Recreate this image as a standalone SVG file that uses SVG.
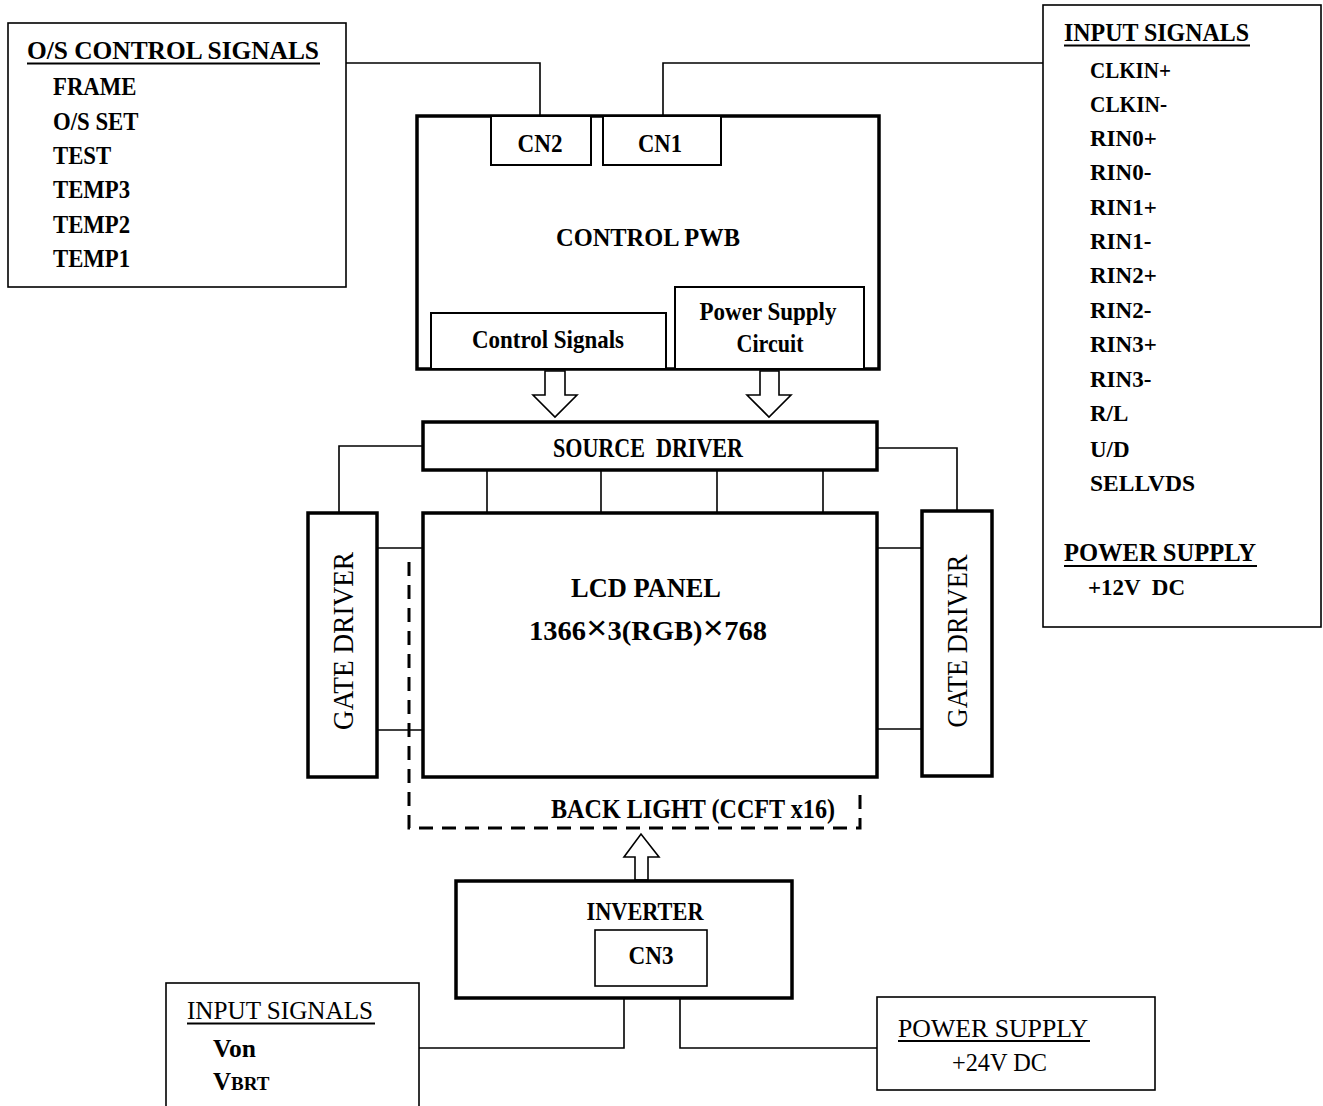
<svg xmlns="http://www.w3.org/2000/svg" width="1323" height="1106" viewBox="0 0 1323 1106">
<style>
.thin{fill:#fff;stroke:#000;stroke-width:1.6}
.med{fill:#fff;stroke:#000;stroke-width:2}
.thick{fill:#fff;stroke:#000;stroke-width:3.5}
.ln{fill:none;stroke:#000;stroke-width:1.6}
.arr{fill:#fff;stroke:#000;stroke-width:1.6}
.dash{fill:none;stroke:#000;stroke-width:3;stroke-dasharray:14 9}
text{font-family:"Liberation Serif","Times New Roman",serif;fill:#000}
.b{font-weight:bold;font-size:23px}
.bb{font-weight:bold;font-size:27px}
.r{font-size:27px}
.c{text-anchor:middle}
.u{fill:none;stroke:#000;stroke-width:2}
</style>
<rect width="1323" height="1106" fill="#fff"/>
<g id="connectors">
<polyline class="ln" points="346,63 540,63 540,116"/>
<polyline class="ln" points="663,116 663,63 1043,63"/>
<polyline class="ln" points="423,446 339,446 339,513"/>
<polyline class="ln" points="877,448 957,448 957,511"/>
<line class="ln" x1="487" y1="470" x2="487" y2="513"/>
<line class="ln" x1="601" y1="470" x2="601" y2="513"/>
<line class="ln" x1="717" y1="470" x2="717" y2="513"/>
<line class="ln" x1="823" y1="470" x2="823" y2="513"/>
<line class="ln" x1="377" y1="548" x2="423" y2="548"/>
<line class="ln" x1="377" y1="730" x2="423" y2="730"/>
<line class="ln" x1="877" y1="548" x2="922" y2="548"/>
<line class="ln" x1="877" y1="729" x2="922" y2="729"/>
<polyline class="ln" points="624,998 624,1048 419,1048"/>
<polyline class="ln" points="680,998 680,1048 877,1048"/>
<polygon class="arr" points="545,371 565,371 565,395 577,395 555,417 533,395 545,395"/>
<polygon class="arr" points="760,371 779,371 779,395 791,395 769,417 747,395 760,395"/>
<polygon class="arr" points="635,880 648,880 648,857 659,857 641,834 624,857 635,857"/>
</g>
<g id="os-control-signals">
<rect class="thin" x="8" y="23" width="338" height="264"/>
<text class="b" x="27" y="59" textLength="292" lengthAdjust="spacingAndGlyphs" style="font-size:25px">O/S CONTROL SIGNALS</text>
<line class="u" x1="27" y1="63.5" x2="320" y2="63.5"/>
<g transform="translate(53,0) scale(0.93,1)">
<text class="b" x="0" y="95" style="font-size:24.5px">FRAME</text>
<text class="b" x="0" y="130" style="font-size:24.5px">O/S SET</text>
<text class="b" x="0" y="164" style="font-size:24.5px">TEST</text>
<text class="b" x="0" y="198" style="font-size:24.5px">TEMP3</text>
<text class="b" x="0" y="233" style="font-size:24.5px">TEMP2</text>
<text class="b" x="0" y="267" style="font-size:24.5px">TEMP1</text>
</g>
</g>
<g id="input-signals-right">
<rect class="thin" x="1043" y="5" width="278" height="622"/>
<text class="b" x="1064" y="41" textLength="185" lengthAdjust="spacingAndGlyphs" style="font-size:24.5px">INPUT SIGNALS</text>
<line class="u" x1="1064" y1="45.5" x2="1250" y2="45.5"/>
<g transform="translate(1090,0)">
<text class="b" x="0" y="78" textLength="81" lengthAdjust="spacingAndGlyphs">CLKIN+</text>
<text class="b" x="0" y="112" textLength="77" lengthAdjust="spacingAndGlyphs">CLKIN-</text>
<text class="b" x="0" y="146">RIN0+</text>
<text class="b" x="0" y="180">RIN0-</text>
<text class="b" x="0" y="215">RIN1+</text>
<text class="b" x="0" y="249">RIN1-</text>
<text class="b" x="0" y="283">RIN2+</text>
<text class="b" x="0" y="318">RIN2-</text>
<text class="b" x="0" y="352">RIN3+</text>
<text class="b" x="0" y="387">RIN3-</text>
<text class="b" x="0" y="421">R/L</text>
<text class="b" x="0" y="457">U/D</text>
<text class="b" x="0" y="491" textLength="105" lengthAdjust="spacingAndGlyphs">SELLVDS</text>
</g>
<text class="b" x="1064" y="561" textLength="192" lengthAdjust="spacingAndGlyphs" style="font-size:24.5px">POWER SUPPLY</text>
<line class="u" x1="1064" y1="566" x2="1257" y2="566"/>
<text class="b" x="1088" y="595" xml:space="preserve">+12V  DC</text>
</g>
<g id="control-pwb">
<rect class="thick" x="417" y="116" width="462" height="253"/>
<text class="b c" x="648" y="246" textLength="184" lengthAdjust="spacingAndGlyphs" style="font-size:25px">CONTROL PWB</text>
</g>
<g id="cn2">
<rect class="med" x="491" y="116" width="100" height="49"/>
<text class="bb c" x="540" y="152" textLength="45" lengthAdjust="spacingAndGlyphs" style="font-size:26px">CN2</text>
</g>
<g id="cn1">
<rect class="med" x="603" y="116" width="118" height="49"/>
<text class="bb c" x="660" y="152" textLength="44" lengthAdjust="spacingAndGlyphs" style="font-size:26px">CN1</text>
</g>
<g id="control-signals">
<rect class="med" x="431" y="313" width="235" height="56"/>
<text class="bb c" x="548" y="348" textLength="152" lengthAdjust="spacingAndGlyphs" style="font-size:26px">Control Signals</text>
</g>
<g id="power-supply-circuit">
<rect class="med" x="675" y="287" width="189" height="82"/>
<text class="bb c" x="768" y="320" textLength="137" lengthAdjust="spacingAndGlyphs" style="font-size:26px">Power Supply</text>
<text class="bb c" x="770" y="352" textLength="67" lengthAdjust="spacingAndGlyphs" style="font-size:26px">Circuit</text>
</g>
<g id="source-driver">
<rect class="thick" x="423" y="422" width="454" height="48"/>
<text class="bb c" x="648" y="457" textLength="190" lengthAdjust="spacingAndGlyphs" xml:space="preserve">SOURCE  DRIVER</text>
</g>
<g id="gate-driver-left">
<rect class="thick" x="308" y="513" width="69" height="264"/>
<text class="r c" transform="translate(353,641) rotate(-90)" x="0" y="0" textLength="178" lengthAdjust="spacingAndGlyphs" style="font-size:29px">GATE DRIVER</text>
</g>
<g id="gate-driver-right">
<rect class="thick" x="922" y="511" width="70" height="265"/>
<text class="r c" transform="translate(967,641) rotate(-90)" x="0" y="0" textLength="173" lengthAdjust="spacingAndGlyphs" style="font-size:29px">GATE DRIVER</text>
</g>
<g id="lcd-panel">
<rect class="thick" x="423" y="513" width="454" height="264"/>
<text class="bb c" x="646" y="597" textLength="150" lengthAdjust="spacingAndGlyphs">LCD PANEL</text>
<text class="bb c" x="648" y="640" textLength="238" lengthAdjust="spacingAndGlyphs">1366<tspan style="font-size:36px">×</tspan>3(RGB)<tspan style="font-size:36px">×</tspan>768</text>
</g>
<g id="back-light">
<polyline class="dash" points="409,562 409,828 860,828 860,790"/>
<text class="bb c" x="693" y="818" textLength="284" lengthAdjust="spacingAndGlyphs">BACK LIGHT (CCFT x16)</text>
</g>
<g id="inverter">
<rect class="thick" x="456" y="881" width="336" height="117"/>
<text class="bb c" x="645" y="920" textLength="117" lengthAdjust="spacingAndGlyphs" style="font-size:26px">INVERTER</text>
</g>
<g id="cn3">
<rect class="thin" x="595" y="930" width="112" height="56"/>
<text class="bb c" x="651" y="964" textLength="45" lengthAdjust="spacingAndGlyphs" style="font-size:26px">CN3</text>
</g>
<g id="input-signals-bottom">
<rect class="thin" x="166" y="983" width="253" height="130"/>
<text class="r" x="187" y="1019" textLength="186" lengthAdjust="spacingAndGlyphs" style="font-size:26px">INPUT SIGNALS</text>
<line class="u" x1="187" y1="1023.5" x2="375" y2="1023.5"/>
<text class="bb" x="213" y="1057" textLength="43" lengthAdjust="spacingAndGlyphs" style="font-size:25px">Von</text>
<text class="bb" x="213" y="1090" style="font-size:25px">V<tspan style="font-size:19px">BRT</tspan></text>
</g>
<g id="power-supply-bottom">
<rect class="thin" x="877" y="997" width="278" height="93"/>
<text class="r" x="898" y="1037" textLength="190" lengthAdjust="spacingAndGlyphs" style="font-size:26px">POWER SUPPLY</text>
<line class="u" x1="898" y1="1041" x2="1090" y2="1041"/>
<text class="r" x="952" y="1071" textLength="95" lengthAdjust="spacingAndGlyphs" style="font-size:25px">+24V DC</text>
</g>
</svg>
